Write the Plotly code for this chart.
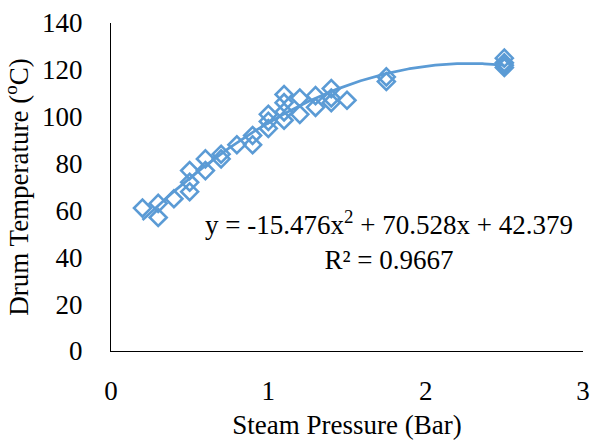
import numpy as np
import plotly.graph_objects as go

pressure = [0.2, 0.3, 0.3, 0.4, 0.5, 0.5, 0.5, 0.6, 0.6, 0.7, 0.7, 0.8, 0.9, 0.9,
            1.0, 1.0, 1.0, 1.1, 1.1, 1.1, 1.1, 1.2, 1.2, 1.3, 1.3, 1.4, 1.4, 1.4,
            1.5, 1.75, 1.75, 2.5, 2.5, 2.5, 2.5]
temperature = [61, 57, 63, 65, 68, 72, 77, 77, 82, 84, 82, 88, 92, 88,
               101, 95, 98, 109.5, 106, 102, 98.5, 108, 101, 109, 104, 112, 108, 106,
               107, 117, 115, 125, 123, 122, 121]

coef = [-15.476, 70.528, 42.379]
r2 = 0.9667

blue = "#5B9BD5"
font_family = "Liberation Serif"
fs = 27

xs = np.linspace(min(pressure), max(pressure), 200)
ys = np.polyval(coef, xs)

fig = go.Figure()
fig.add_trace(go.Scatter(
    x=pressure, y=temperature, mode="markers",
    marker=dict(symbol="diamond-open", size=13, color=blue, line=dict(width=2.6, color=blue)),
    showlegend=False,
))
fig.add_trace(go.Scatter(
    x=xs, y=ys, mode="lines",
    line=dict(color=blue, width=2.75),
    showlegend=False,
))

eq_text = f"y = {coef[0]}x<sup>2</sup> + {coef[1]}x + {coef[2]}<br>R² = {r2}"
fig.add_annotation(
    x=1.77, y=47, xref="x", yref="y", text=eq_text, showarrow=False,
    font=dict(family=font_family, size=fs, color="black"), align="center",
)

fig.update_layout(
    width=598, height=442,
    margin=dict(l=111, r=8, t=18, b=90),
    paper_bgcolor="white", plot_bgcolor="white",
    font=dict(family=font_family, size=fs, color="black"),
)
fig.update_xaxes(
    range=[0, 3], dtick=1, tick0=0, showgrid=False, zeroline=False,
    showline=True, linecolor="black", linewidth=1,
    ticks="", ticklabelstandoff=16,
    title=dict(text="Steam Pressure (Bar)", standoff=9, font=dict(size=fs)),
    tickfont=dict(size=fs),
)
fig.update_yaxes(
    range=[0, 140], dtick=20, tick0=0, showgrid=False, zeroline=False,
    showline=True, linecolor="black", linewidth=1,
    ticks="", ticklabelstandoff=22,
    title=dict(text="Drum Temperature (<sup>o</sup>C)", standoff=6, font=dict(size=fs)),
    tickfont=dict(size=fs),
)

fig.write_html("out.html")
